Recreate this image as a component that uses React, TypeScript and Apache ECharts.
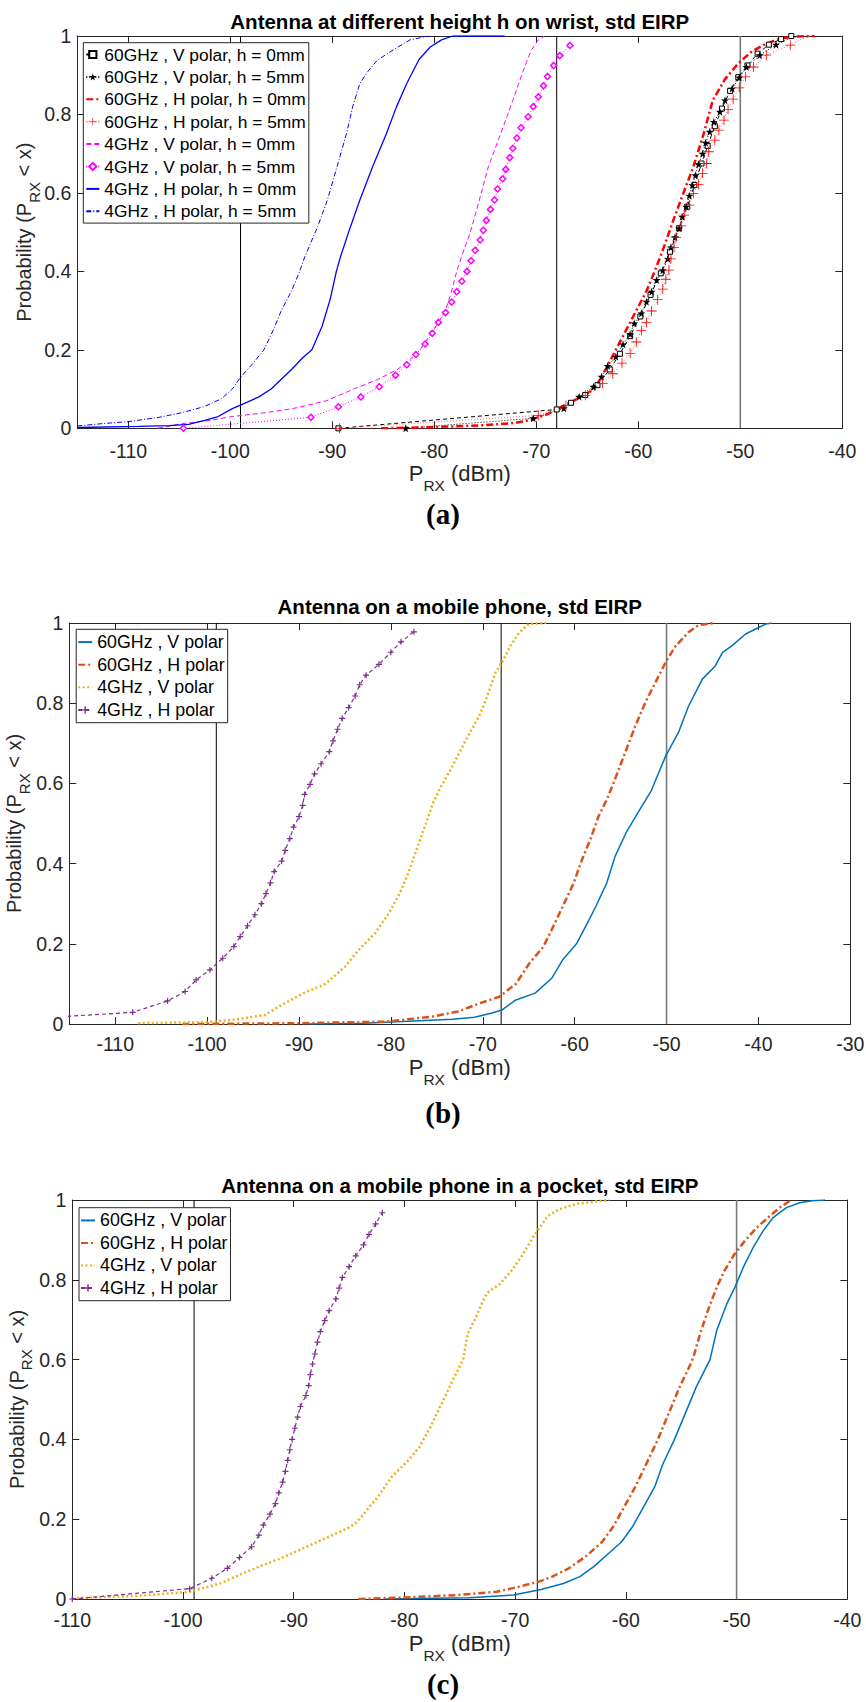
import { useEffect, useRef } from 'react';
import * as echarts from 'echarts';

// ---------------- ticks, reference lines, texts ----------------
const xTicksA = [-110, -100, -90, -80, -70, -60, -50, -40];
const xTicksB = [-110, -100, -90, -80, -70, -60, -50, -40, -30];
const xTicksC = [-110, -100, -90, -80, -70, -60, -50, -40];
const yTicks = [0, 0.2, 0.4, 0.6, 0.8, 1];
const refLines = [-99, -68, -50];

const titles = [
  'Antenna at different height h on wrist, std EIRP',
  'Antenna on a mobile phone, std EIRP',
  'Antenna on a mobile phone in a pocket, std EIRP',
];
const captions = ['(a)', '(b)', '(c)'];

const namesA = [
  '60GHz , V polar, h = 0mm',
  '60GHz , V polar, h = 5mm',
  '60GHz , H polar, h = 0mm',
  '60GHz , H polar, h = 5mm',
  '4GHz , V polar, h = 0mm',
  '4GHz , V polar, h = 5mm',
  '4GHz , H polar, h = 0mm',
  '4GHz , H polar, h = 5mm',
];
const namesBC = ['60GHz , V polar', '60GHz , H polar', '4GHz , V polar', '4GHz , H polar'];

// ---------------- chart (a) data: [PRX dBm, probability] ----------------
const a60V0 = [[-89.4,0],[-68,0.048],[-66.6,0.065],[-65.2,0.085],[-64,0.11],[-62.8,0.15],[-61.8,0.19],[-60.8,0.235],[-59.8,0.285],[-58.8,0.34],[-57.8,0.395],[-56.9,0.45],[-56,0.51],[-55.2,0.565],[-54.5,0.62],[-53.8,0.675],[-53.2,0.72],[-52.5,0.77],[-51.8,0.815],[-51,0.86],[-50.2,0.895],[-49.3,0.925],[-48.3,0.955],[-47.2,0.978],[-46,0.992],[-45,1]];
const a60V5 = [[-82.8,0],[-70.3,0.0255],[-67.3,0.051],[-65.8,0.0806],[-64.4,0.106],[-63.6,0.1316],[-63.0,0.159],[-62.2,0.1825],[-61.5,0.214],[-60.8,0.24],[-60.4,0.2675],[-59.7,0.293],[-59.2,0.3226],[-58.7,0.348],[-58.2,0.378],[-57.6,0.403],[-57.1,0.432],[-56.8,0.461],[-56.4,0.487],[-56.0,0.51],[-55.7,0.539],[-55.3,0.565],[-55.0,0.593],[-54.7,0.62],[-54.4,0.645],[-54.1,0.673],[-53.7,0.70],[-53.4,0.728],[-53.0,0.756],[-52.6,0.781],[-52.0,0.807],[-51.5,0.836],[-50.8,0.866],[-50.1,0.894],[-49.4,0.921],[-48.1,0.951],[-46.5,0.978]];
const a60V5Tail = [[-45.2,0.993],[-44.3,1]];
const a60H0 = [[-85.2,0],[-80,0.003],[-75,0.008],[-72,0.014],[-70.5,0.022],[-69,0.035],[-67.9,0.05],[-66.5,0.068],[-65.3,0.085],[-64.3,0.1],[-63.2,0.15],[-62.2,0.2],[-61.2,0.25],[-60.2,0.3],[-59.2,0.35],[-58.4,0.4],[-57.6,0.454],[-56.5,0.535],[-55.5,0.605],[-54.6,0.667],[-53.6,0.75],[-52.7,0.836],[-51.5,0.89],[-50.2,0.93],[-48.9,0.96],[-47.5,0.98],[-46,0.994],[-44.5,0.999],[-42.7,1]];
const a60H5 = [[-89.3,0],[-69.8,0.033],[-67.1,0.058],[-65.2,0.084],[-63.5,0.114],[-62.5,0.139],[-61.6,0.166],[-60.8,0.191],[-60.2,0.22],[-59.7,0.249],[-59.2,0.27],[-58.7,0.299],[-58.1,0.328],[-57.6,0.355],[-57.3,0.38],[-57.0,0.403],[-56.8,0.432],[-56.5,0.461],[-56.3,0.4866],[-55.8,0.516],[-55.5,0.5435],[-55.0,0.569],[-54.6,0.599],[-54.1,0.622],[-53.7,0.65],[-53.3,0.675],[-53.1,0.705],[-52.5,0.7345],[-52.1,0.76],[-51.6,0.7855],[-51.2,0.813],[-50.7,0.839],[-50.1,0.868],[-49.5,0.896],[-48.7,0.921],[-47.45,0.951],[-45.1,0.9766]];
const a60H5Tail = [[-44,0.992],[-43.2,1]];
const a4V0 = [[-107.1,0],[-104.7,0.012],[-102,0.02],[-99.8,0.03],[-96.5,0.04],[-93.9,0.05],[-90.6,0.07],[-87.9,0.1],[-85.5,0.125],[-83.6,0.15],[-82.4,0.175],[-81.4,0.2],[-80.1,0.25],[-78.9,0.3],[-78.3,0.35],[-77.8,0.4],[-77.3,0.44],[-76.5,0.497],[-75.6,0.58],[-74.7,0.667],[-73.5,0.75],[-72.3,0.836],[-71.3,0.91],[-70.5,0.964],[-69.8,0.99],[-69.2,1]];
const a4V5 = [[-104.6,0],[-92.1,0.028],[-89.4,0.055],[-87.2,0.08],[-85.4,0.106],[-83.8,0.135],[-82.7,0.162],[-81.8,0.188],[-80.9,0.215],[-80.2,0.242],[-79.6,0.27],[-78.9,0.295],[-78.3,0.322],[-77.8,0.348],[-77.3,0.375],[-76.8,0.4],[-76.4,0.427],[-76.0,0.454],[-75.5,0.48],[-75.2,0.505],[-74.9,0.53],[-74.5,0.558],[-74.1,0.582],[-73.8,0.61],[-73.3,0.636],[-73.0,0.66],[-72.6,0.69],[-72.3,0.714],[-71.9,0.74],[-71.5,0.766],[-70.8,0.794],[-70.3,0.82],[-69.8,0.845],[-69.3,0.873],[-68.9,0.897],[-68.3,0.925],[-67.7,0.95],[-66.7,0.976]];
const a4H0 = [[-115,0.002],[-109,0.005],[-106,0.007],[-104.1,0.01],[-102.5,0.02],[-101.2,0.03],[-99.8,0.05],[-98.5,0.065],[-97.2,0.08],[-96,0.1],[-95,0.125],[-94,0.15],[-92.9,0.18],[-92,0.2],[-91,0.26],[-90.2,0.33],[-89.6,0.4],[-89.2,0.437],[-88.4,0.5],[-87.3,0.582],[-86,0.67],[-84.7,0.751],[-83.7,0.82],[-82.7,0.879],[-81.5,0.94],[-80.4,0.972],[-79.3,0.99],[-78.2,1],[-73.1,1]];
const a4H5 = [[-115,0.006],[-112.5,0.012],[-110,0.017],[-107,0.028],[-104.7,0.04],[-102.6,0.055],[-100.9,0.075],[-99.8,0.1],[-99,0.13],[-97.8,0.165],[-96.7,0.2],[-95.8,0.25],[-95,0.3],[-94,0.35],[-93.2,0.4],[-92.7,0.437],[-91.5,0.51],[-90.5,0.58],[-89.5,0.67],[-88.6,0.752],[-88,0.82],[-87.3,0.879],[-86.5,0.91],[-85.6,0.938],[-84,0.965],[-82.4,0.99],[-80.5,1]];

// ---------------- chart (b) data ----------------
const b60V = [[-88.9,0],[-83,0.002],[-78.7,0.006],[-73.3,0.012],[-70.9,0.017],[-69.1,0.027],[-67.9,0.035],[-66.4,0.06],[-64.3,0.077],[-62.5,0.114],[-61.3,0.16],[-59.8,0.2],[-58.6,0.252],[-57.7,0.293],[-56.5,0.352],[-55.6,0.418],[-54.4,0.477],[-52.9,0.535],[-51.7,0.58],[-50.1,0.668],[-48.7,0.727],[-47.6,0.793],[-46.1,0.86],[-44.7,0.893],[-43.9,0.927],[-42.9,0.943],[-41.4,0.9725],[-40.3,0.985],[-39.2,0.9975],[-38.5,1]];
const b60H = [[-102.7,0],[-90,0.002],[-80.5,0.006],[-75.6,0.018],[-72.7,0.031],[-70.3,0.052],[-68.2,0.068],[-66.4,0.1],[-64.9,0.152],[-63.4,0.193],[-62.5,0.235],[-61.3,0.293],[-60.1,0.352],[-59.2,0.41],[-58.3,0.46],[-57.4,0.518],[-56.5,0.56],[-55.9,0.593],[-54.5,0.677],[-53.4,0.743],[-52.3,0.802],[-51.2,0.852],[-50.1,0.902],[-49.0,0.943],[-47.6,0.977],[-46.5,0.995],[-44.7,1]];
const b4V = [[-107.5,0.002],[-100,0.005],[-97.3,0.01],[-93.7,0.0225],[-91.9,0.0475],[-89.5,0.077],[-87.1,0.1],[-85.0,0.143],[-83.5,0.185],[-81.7,0.227],[-80.2,0.277],[-79.0,0.327],[-78.1,0.377],[-77.2,0.435],[-76.3,0.493],[-75.4,0.552],[-74.6,0.59],[-73.3,0.643],[-71.8,0.71],[-70.4,0.768],[-69.5,0.818],[-68.6,0.877],[-67.9,0.902],[-67.0,0.943],[-66.0,0.977],[-65.0,0.9975],[-63.1,1]];
const b4HHead = [[-116,0.018]];
const b4H = [[-108.1,0.029],[-104.3,0.0575],[-102.4,0.081],[-101.2,0.11],[-99.7,0.135],[-98.3,0.164],[-97.1,0.193],[-96.4,0.218],[-95.6,0.245],[-94.8,0.2725],[-94.1,0.30],[-93.6,0.325],[-93.1,0.352],[-92.7,0.38],[-91.9,0.406],[-91.5,0.433],[-91.0,0.4625],[-90.6,0.491],[-90.0,0.517],[-89.6,0.545],[-89.4,0.5725],[-88.8,0.5975],[-88.3,0.624],[-87.6,0.649],[-86.7,0.679],[-86.3,0.706],[-85.8,0.735],[-85.3,0.762],[-84.6,0.789],[-83.9,0.818],[-83.4,0.846],[-82.7,0.87],[-81.3,0.897],[-80.0,0.927],[-78.9,0.953],[-77.5,0.978]];

// ---------------- chart (c) data ----------------
const c60V = [[-81.7,0],[-74.15,0.003],[-70.15,0.01],[-67.65,0.024],[-65.65,0.039],[-64.15,0.056],[-62.9,0.081],[-61.9,0.106],[-60.4,0.143],[-59.4,0.181],[-58.4,0.231],[-57.4,0.281],[-56.65,0.339],[-55.65,0.3975],[-54.65,0.464],[-53.65,0.531],[-52.4,0.6],[-51.8,0.6725],[-50.9,0.739],[-50.15,0.781],[-49.4,0.831],[-48.5,0.881],[-47.6,0.9225],[-46.7,0.956],[-45.5,0.981],[-44.3,0.993],[-43.2,0.998],[-42,1]];
const c60H = [[-84.15,0],[-79.9,0.004],[-75.15,0.01],[-71.65,0.018],[-69.65,0.031],[-67.9,0.043],[-66.65,0.056],[-65.15,0.077],[-63.65,0.106],[-62.15,0.143],[-61.15,0.181],[-60.15,0.231],[-59.15,0.281],[-58.15,0.339],[-57.15,0.3975],[-56.15,0.464],[-55.15,0.531],[-54.15,0.589],[-53.9,0.606],[-53.3,0.664],[-52.6,0.7225],[-51.8,0.781],[-51.1,0.8225],[-50.2,0.864],[-49.25,0.8975],[-48.2,0.93],[-47.0,0.96],[-46.1,0.981],[-45.35,0.995],[-45,1]];
const c4V = [[-110,0.002],[-104,0.008],[-99.4,0.018],[-96.65,0.039],[-95.15,0.0575],[-93.15,0.081],[-91.15,0.102],[-89.15,0.127],[-87.15,0.152],[-85.15,0.177],[-84.4,0.19],[-83.65,0.214],[-82.4,0.256],[-81.15,0.306],[-79.65,0.3475],[-78.65,0.381],[-77.65,0.431],[-76.65,0.489],[-75.65,0.5475],[-74.7,0.6],[-74.3,0.664],[-73.55,0.706],[-72.9,0.7475],[-72.5,0.768],[-71.4,0.789],[-70.2,0.827],[-69.3,0.864],[-68.4,0.906],[-67.8,0.93],[-67.05,0.96],[-66.0,0.977],[-64.5,0.99],[-62.5,0.997],[-61.5,1]];
const c4H = [[-110,0],[-99.4,0.026],[-97.4,0.052],[-96.0,0.077],[-94.9,0.104],[-93.8,0.131],[-93.15,0.16],[-92.75,0.185],[-92.15,0.2125],[-91.65,0.239],[-91.35,0.266],[-91.0,0.293],[-90.75,0.32],[-90.55,0.3475],[-90.35,0.374],[-90.15,0.40],[-89.9,0.428],[-89.65,0.456],[-89.4,0.4825],[-88.9,0.51],[-88.65,0.535],[-88.5,0.5625],[-88.3,0.589],[-88.1,0.614],[-87.85,0.644],[-87.6,0.67],[-87.2,0.6975],[-86.8,0.7225],[-86.2,0.752],[-85.9,0.779],[-85.6,0.806],[-85.0,0.833],[-84.4,0.86],[-83.7,0.8875],[-83.2,0.914],[-82.6,0.94],[-82.0,0.968]];

// ---------------- styling / layout ----------------
const W = 866;
const H = 1702;
const FONT = '"Liberation Sans", Arial, Helvetica, sans-serif';
const SERIF = '"Liberation Serif", "Times New Roman", serif';
const AX = '#262626';
const TICK_FS = 19.5;

const STAR = 'path://M50,0L61.8,35.1L98.1,34.5L69.1,56.7L79.4,91.6L50,70.7L20.6,91.6L30.9,56.7L1.9,34.5L38.2,35.1Z';
const PLUS_THIN = 'path://M46,0L54,0L54,46L100,46L100,54L54,54L54,100L46,100L46,54L0,54L0,46L46,46Z';
const PLUS_BOLD = 'path://M40,0L60,0L60,40L100,40L100,60L60,60L60,100L40,100L40,60L0,60L0,40L40,40Z';

const panels = [
  { grid: { left: 77.3, top: 36, width: 765, height: 392.3 }, xMin: -115, xMax: -40, xTicks: xTicksA, split: 8,
    labelMargin: 12.5, nameGap: 34, yNameGap: 35.5, titleY: 21.5, capY: 514,
    legend: { left: 83.3, top: 42.7, lineHeight: 18.4, gap: 4, fs: 17.4, pad: [2.6, 3, 2.6, 2], iw: 13, names: namesA } },
  { grid: { left: 69.3, top: 623, width: 781, height: 401 }, xMin: -115, xMax: -30, xTicks: xTicksB, split: 8,
    labelMargin: 10, nameGap: 32, yNameGap: 37.5, titleY: 606.7, capY: 1113,
    legend: { left: 76.2, top: 629.3, lineHeight: 18.6, gap: 4, fs: 17.8, pad: [3.5, 3, 3.5, 1], iw: 14, names: namesBC } },
  { grid: { left: 72.3, top: 1200, width: 775, height: 399 }, xMin: -110, xMax: -40, xTicks: xTicksC, split: 7,
    labelMargin: 10.5, nameGap: 33, yNameGap: 38, titleY: 1185.8, capY: 1684,
    legend: { left: 79, top: 1207.7, lineHeight: 18.5, gap: 4, fs: 17.8, pad: [3.5, 3, 3.5, 1], iw: 14, names: namesBC } },
];

// subscripts: every token is top-aligned, the subscript is pushed down by its top padding
const richX = {
  m: { fontSize: 22, fontFamily: FONT, color: AX, verticalAlign: 'top' },
  s: { fontSize: 15.5, fontFamily: FONT, color: AX, verticalAlign: 'top', padding: [15, 0, 0, 0] },
};
const richY = {
  m: { fontSize: 20, fontFamily: FONT, color: AX, verticalAlign: 'top' },
  s: { fontSize: 15, fontFamily: FONT, color: AX, verticalAlign: 'top', padding: [12.5, 0, 0, 0] },
};

function buildAxes(p: any, gi: number) {
  const line = { show: true, onZero: false, lineStyle: { color: AX, width: 1 } };
  const tickX = { show: true, inside: true, length: 7, lineStyle: { color: AX, width: 1 }, customValues: p.xTicks };
  const tickY = { show: true, inside: true, length: 7, lineStyle: { color: AX, width: 1 }, customValues: yTicks };
  const xs = [
    {
      gridIndex: gi, type: 'value', position: 'bottom', min: p.xMin, max: p.xMax, splitNumber: p.split,
      axisLine: line, axisTick: tickX,
      axisLabel: { show: true, customValues: p.xTicks, fontSize: TICK_FS, color: AX, fontFamily: FONT, margin: p.labelMargin },
      splitLine: { show: false },
      name: '{m|P}{s|RX}{m| (dBm)}', nameLocation: 'middle', nameGap: p.nameGap, nameMoveOverlap: false,
      nameTextStyle: { color: AX, fontFamily: FONT, fontSize: 22, rich: richX },
    },
    {
      gridIndex: gi, type: 'value', position: 'top', min: p.xMin, max: p.xMax, splitNumber: p.split,
      axisLine: line, axisTick: tickX, axisLabel: { show: false, customValues: p.xTicks }, splitLine: { show: false },
    },
  ];
  const ys = [
    {
      gridIndex: gi, type: 'value', position: 'left', min: 0, max: 1, interval: 0.2,
      axisLine: line, axisTick: tickY,
      axisLabel: { show: true, customValues: yTicks, fontSize: TICK_FS, color: AX, fontFamily: FONT, margin: 6 },
      splitLine: { show: false },
      name: '{m|Probability (P}{s|RX}{m| < x)}', nameLocation: 'middle', nameGap: p.yNameGap, nameMoveOverlap: false,
      nameTextStyle: { color: AX, fontFamily: FONT, fontSize: 20, rich: richY },
    },
    {
      gridIndex: gi, type: 'value', position: 'right', min: 0, max: 1, interval: 0.2,
      axisLine: line, axisTick: tickY, axisLabel: { show: false }, splitLine: { show: false },
    },
  ];
  return { xs, ys };
}

function ser(name: string, data: any[], gi: number, o: any) {
  return {
    type: 'line', name, xAxisIndex: gi * 2, yAxisIndex: gi * 2, data,
    animation: false, clip: true, silent: true, emphasis: { disabled: true }, ...o,
  };
}

function noMark(pts: number[][]) {
  return pts.map((v) => ({ value: v, symbol: 'none' }));
}

function refSeries(gi: number) {
  return refLines.map((v) =>
    ser('ref' + gi + '_' + v, [[v, 0], [v, 1]], gi, {
      symbol: 'none', z: 1,
      lineStyle: { color: v === -50 ? '#7a7a7a' : '#000', width: v === -50 ? 1.6 : 1 },
    })
  );
}

// series names drawn without markers (their legend icon is a bare line)
const lineOnly = new Set([namesA[2], namesA[4], namesA[6], namesA[7], namesBC[0], namesBC[1], namesBC[2]]);

function buildSeries() {
  const s: any[] = [];
  // (a)
  s.push(...refSeries(0));
  s.push(ser(namesA[0], a60V0, 0, { symbol: 'rect', symbolSize: 5, itemStyle: { color: '#fff', borderColor: '#000', borderWidth: 1 }, lineStyle: { color: '#000', width: 1, type: [4, 3] } }));
  s.push(ser(namesA[1], [...a60V5, ...noMark(a60V5Tail)], 0, { symbol: STAR, symbolSize: 8, itemStyle: { color: '#000', borderWidth: 0 }, lineStyle: { color: '#000', width: 1, type: [1, 2] } }));
  s.push(ser(namesA[2], a60H0, 0, { symbol: 'none', itemStyle: { color: '#FF0000' }, lineStyle: { color: '#FF0000', width: 2.5, type: [7, 3, 2, 3] } }));
  s.push(ser(namesA[3], [...a60H5, ...noMark(a60H5Tail)], 0, { symbol: PLUS_THIN, symbolSize: 10, itemStyle: { color: '#FF0000', borderWidth: 0 }, lineStyle: { color: '#FF6a6a', width: 1, type: [1, 2] } }));
  s.push(ser(namesA[4], a4V0, 0, { symbol: 'none', itemStyle: { color: '#FF00FF' }, lineStyle: { color: '#FF00FF', width: 1, type: [5, 3] } }));
  s.push(ser(namesA[5], a4V5, 0, { symbol: 'diamond', symbolSize: 6, itemStyle: { color: '#fff', borderColor: '#FF00FF', borderWidth: 1.5 }, lineStyle: { color: '#FF00FF', width: 1, type: [1, 2] } }));
  s.push(ser(namesA[6], a4H0, 0, { symbol: 'none', itemStyle: { color: '#0000FF' }, lineStyle: { color: '#0000FF', width: 1.3 } }));
  s.push(ser(namesA[7], a4H5, 0, { symbol: 'none', itemStyle: { color: '#0000FF' }, lineStyle: { color: '#0000FF', width: 1, type: [5, 2, 1, 2] } }));
  // (b) and (c)
  const sets = [
    { gi: 1, v60: b60V, h60: b60H, v4: b4V, h4: [...noMark(b4HHead), ...b4H] },
    { gi: 2, v60: c60V, h60: c60H, v4: c4V, h4: c4H },
  ];
  sets.forEach((d) => {
    s.push(...refSeries(d.gi));
    s.push(ser(namesBC[0], d.v60, d.gi, { symbol: 'none', itemStyle: { color: '#0072BD' }, lineStyle: { color: '#0072BD', width: 1.5 } }));
    s.push(ser(namesBC[1], d.h60, d.gi, { symbol: 'none', itemStyle: { color: '#D95319' }, lineStyle: { color: '#D95319', width: 2.5, type: [7, 3, 2, 3] } }));
    s.push(ser(namesBC[2], d.v4, d.gi, { symbol: 'none', itemStyle: { color: '#EDB120' }, lineStyle: { color: '#EDB120', width: 2.5, type: [2, 2.5] } }));
    s.push(ser(namesBC[3], d.h4, d.gi, { symbol: PLUS_BOLD, symbolSize: 6, itemStyle: { color: '#7E2F8E', borderWidth: 0 }, lineStyle: { color: '#7E2F8E', width: 1.2, type: [4, 3] } }));
  });
  return s;
}

function buildOption() {
  const xAxis: any[] = [];
  const yAxis: any[] = [];
  panels.forEach((p, i) => {
    const { xs, ys } = buildAxes(p, i);
    xAxis.push(...xs);
    yAxis.push(...ys);
  });
  const legend = panels.map((p) => ({
    orient: 'vertical', left: p.legend.left, top: p.legend.top,
    backgroundColor: '#fff', borderColor: AX, borderWidth: 1, borderRadius: 0,
    padding: p.legend.pad, itemGap: p.legend.gap, itemWidth: p.legend.iw, itemHeight: 9,
    selectedMode: false,
    data: p.legend.names.map((n: string) => (lineOnly.has(n) ? { name: n, itemStyle: { opacity: 0 } } : { name: n })),
    textStyle: { fontSize: p.legend.fs, color: '#000', fontFamily: FONT, lineHeight: p.legend.lineHeight },
  }));
  const graphic: any[] = [];
  panels.forEach((p, i) => {
    graphic.push({
      type: 'text', x: p.grid.left + p.grid.width / 2, y: p.titleY, silent: true,
      style: { text: titles[i], font: 'bold 20.5px ' + FONT, fill: '#000', align: 'center', verticalAlign: 'middle' },
    });
    graphic.push({
      type: 'text', x: 443, y: p.capY, silent: true,
      style: { text: captions[i], font: 'bold 29px ' + SERIF, fill: '#000', align: 'center', verticalAlign: 'middle' },
    });
  });
  return {
    animation: false,
    backgroundColor: '#fff',
    grid: panels.map((p) => ({ ...p.grid, containLabel: false, outerBoundsMode: 'none', show: false })),
    xAxis, yAxis, legend, graphic,
    series: buildSeries(),
  };
}

export default function App() {
  const ref = useRef<HTMLDivElement>(null);
  useEffect(() => {
    if (!ref.current) return;
    const chart = echarts.init(ref.current, undefined, { renderer: 'svg', width: W, height: H });
    chart.setOption(buildOption() as any);
    return () => chart.dispose();
  }, []);
  return (
    <div
      ref={ref}
      style={{ position: 'absolute', left: 0, top: 0, width: W, height: H, background: '#fff' }}
    />
  );
}
